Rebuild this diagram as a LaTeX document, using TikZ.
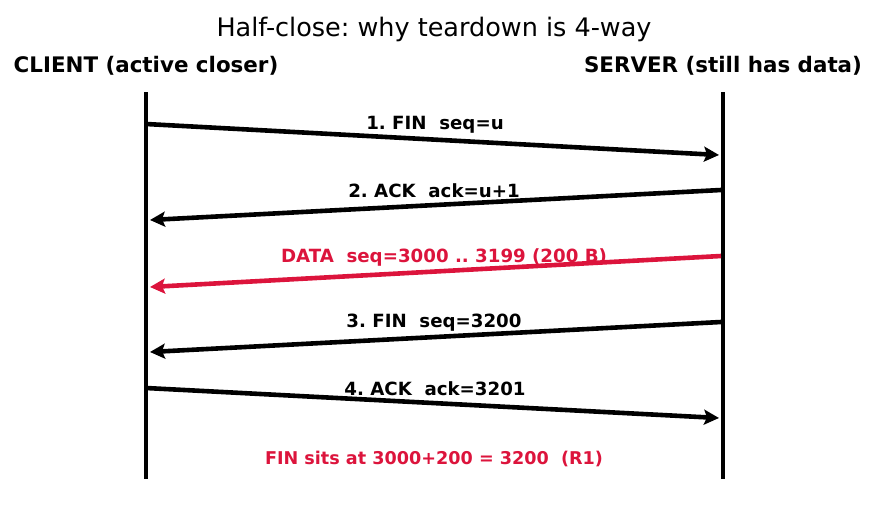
\documentclass[tikz,border=0pt]{standalone}
\usepackage{fontspec}
\setmainfont{DejaVu Sans}
\usetikzlibrary{arrows.meta}
\frenchspacing
\definecolor{crim}{RGB}{220,20,60}
\tikzset{
  life/.style={line width=4.6pt},
  msg/.style={line width=4.6pt,-{Stealth[length=15pt,width=15pt,inset=3pt]}},
  lbl/.style={font=\bfseries\fontsize{18.2}{21}\selectfont,inner sep=0pt},
  hdr/.style={font=\bfseries\fontsize{21.4}{25}\selectfont,inner sep=0pt},
}
\begin{document}
\begin{tikzpicture}[x=1pt,y=-1pt]
\useasboundingbox (0,0) rectangle (875,512);
\node[inner sep=0pt,font=\fontsize{25.5}{30}\selectfont] (title) at (434,29) {Half-close: why teardown is 4-way};
\node[hdr] (client) at (146,66) {CLIENT (active closer)};
\node[hdr] (server) at (723,66) {SERVER (still has data)};
\coordinate (ct) at (146,92); \coordinate (cb) at (146,479);
\coordinate (st) at (723,92); \coordinate (sb) at (723,479);
\draw[life] (ct) -- (cb);
\draw[life] (st) -- (sb);
% messages
\coordinate (m1a) at (146,124); \coordinate (m1b) at (719,155);
\coordinate (m2a) at (721,190); \coordinate (m2b) at (150,220);
\coordinate (m3a) at (721,256); \coordinate (m3b) at (150,287);
\coordinate (m4a) at (721,322); \coordinate (m4b) at (150,352);
\coordinate (m5a) at (146,388); \coordinate (m5b) at (719,418);
\draw[msg] (m1a) -- (m1b);
\draw[msg] (m2a) -- (m2b);
\draw[msg,crim] (m3a) -- (m3b);
\draw[msg] (m4a) -- (m4b);
\draw[msg] (m5a) -- (m5b);
\node[lbl] (l1) at (435,125) {1. FIN\ \ seq=u};
\node[lbl] (l2) at (434,191) {2. ACK\ \ ack=u+1};
\node[lbl,text=crim] (l3) at (444,257) {DATA\ \ seq=3000 .. 3199 (200 B)};
\node[lbl] (l4) at (434,323) {3. FIN\ \ seq=3200};
\node[lbl] (l5) at (435,389) {4. ACK\ \ ack=3201};
\node[lbl,text=crim,font=\bfseries\fontsize{17.6}{20}\selectfont] (note) at (434,459) {FIN sits at 3000+200 = 3200\ \ (R1)};
\end{tikzpicture}
\end{document}
